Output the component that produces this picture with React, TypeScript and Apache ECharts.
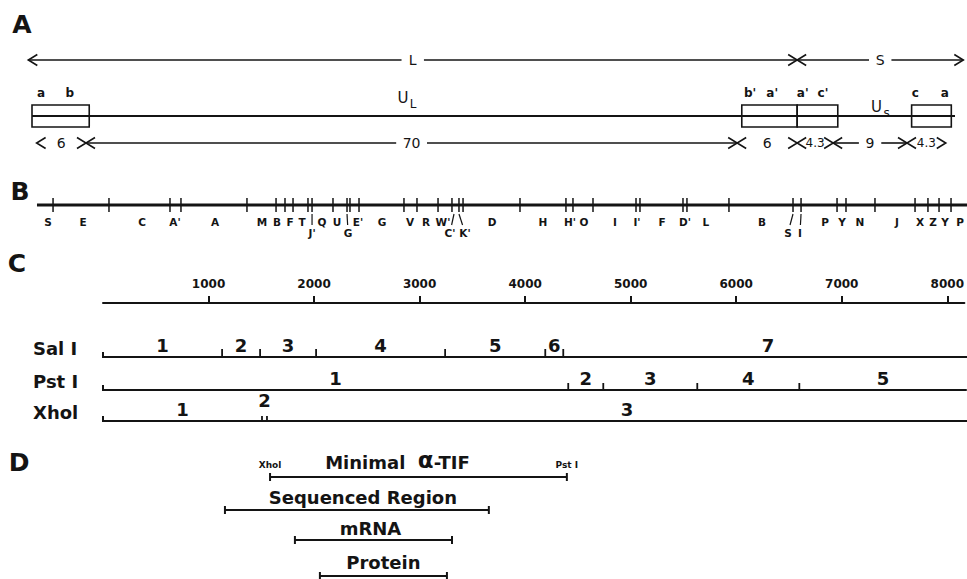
import React, { useEffect, useRef } from "react";
import * as echarts from "echarts";

// ================= DATA =================
// Panel A — genome structure, map units (0..1)
const segmentNames = ["L", "S"];
const segmentStart = [-0.004, 0.829];
const segmentEnd = [0.829, 1.009];

const genomeSpan = [0, 1.0];
const repeatStart = [0, 0.769, 0.829, 0.953];
const repeatEnd = [0.062, 0.829, 0.873, 0.996];
const repeatLabelText = ["a", "b", "b'", "a'", "a'", "c'", "c", "a"];
const repeatLabelPos = [0.0098, 0.041, 0.778, 0.802, 0.835, 0.857, 0.957, 0.989];
const uniqueSub = ["L", "s"];
const uniquePos = [0.402, 0.915];

const sizeBounds = [0.005, 0.0585, 0.764, 0.829, 0.868, 0.948, 0.99];
const sizeLabels = ["6", "70", "6", "4.3", "9", "4.3"];

// Panel B — restriction map, map units
const mapSpanB = [0.0054, 1.013];
const sitesB = [0.0228, 0.0834, 0.1495, 0.1614, 0.2329, 0.2644, 0.2741, 0.2828, 0.299, 0.3034,
  0.3261, 0.3413, 0.3445, 0.3543, 0.403, 0.4171, 0.4399, 0.455, 0.4626, 0.467, 0.5287, 0.5785,
  0.5861, 0.6078, 0.6544, 0.6587, 0.7053, 0.7096, 0.7551, 0.8245, 0.8332, 0.8722, 0.8819, 0.9133,
  0.9567, 0.9707, 0.9827, 0.9957];
const fragTextB = ["S", "E", "C", "A'", "A", "M", "B", "F", "T", "Q", "U", "E'", "G", "V", "R", "W'",
  "D", "H", "H'", "O", "I", "I'", "F", "D'", "L", "B", "P", "Y", "N", "J", "X", "Z", "Y", "P"];
const fragPosB = [0.0173, 0.0553, 0.1192, 0.1549, 0.1983, 0.2492, 0.2654, 0.2795, 0.2925, 0.3142,
  0.3304, 0.3532, 0.3792, 0.4095, 0.4269, 0.4453, 0.4984, 0.5536, 0.5829, 0.5981, 0.6316, 0.6555,
  0.6826, 0.7075, 0.7302, 0.7909, 0.8592, 0.8776, 0.8971, 0.9372, 0.9621, 0.9762, 0.9892, 1.0054];
const smallFragText = ["J'", "G", "C'", "K'", "S", "I"];
const smallFragPos = [0.3034, 0.3424, 0.4529, 0.4691, 0.8191, 0.8321];
const smallFragSite = [0.3034, 0.3413, 0.4572, 0.4626, 0.8245, 0.8332];

// Panel C — base pairs
const bpTickStep = 1000;
const bpAxisMax = 8162;
const enzymeNames = ["Sal I", "Pst I", "Xhol"];
const salSites = [1125, 1484, 2013, 3232, 4178, 4348];
const pstSites = [4395, 4726, 5614, 6578];
const xhoSites = [1502, 1549];
const enzymeSites = [salSites, pstSites, xhoSites];
const enzymeEnds = [8216, 8160, 8350];

// Panel D — base pairs
const regionNames = ["Minimal α-TIF", "Sequenced Region", "mRNA", "Protein"];
const regionStart = [1578, 1152, 1813, 2049];
const regionEnd = [4382, 3645, 3297, 3249];
const regionEndSites = ["Xhol", "Pst I"];

// ================= LAYOUT / STYLE =================
const INK = "#141414";
const FONT = "DejaVu Sans";
const Y = {
  segRow: 60, repeatLbl: 93, boxTop: 105, boxBot: 127, genome: 116, uniqueLbl: [98, 107], sizeRow: 143,
  lineB: 205, tickB: 7, lblB: 222, lblB2: 233,
  axisC: 303, rowsC: [357, 390, 421], tickC: [8, 7, 5],
  dText: [459, 497, 528, 562], dLine: [477, 510, 540, 576],
};
const dTextDx = [-21, 6, -3, 0];

const txt = (text: string, x: number, y: number, size: number, extra: any = {}) => ({
  type: "text",
  style: { text, x, y, fill: INK, fontSize: size, fontWeight: "bold", fontFamily: FONT,
    align: "center", verticalAlign: "middle", ...extra },
});
const seg = (x1: number, y1: number, x2: number, y2: number, w = 1.6) => ({
  type: "line", shape: { x1, y1, x2, y2 }, style: { stroke: INK, lineWidth: w },
});
const poly = (points: number[][], w = 1.6) => ({
  type: "polyline", shape: { points }, style: { stroke: INK, lineWidth: w, fill: null },
});

const intervalRender = (rowY: number, labels: string[], size: number) => (params: any, api: any) => {
  const a = api.coord([api.value(0), rowY]);
  const b = api.coord([api.value(1), rowY]);
  const y = a[1];
  const label = labels[params.dataIndex];
  const mid = (a[0] + b[0]) / 2;
  const half = label.length * size * 0.3 + 7;
  const ah = 9, aw = 5.5;
  const ch: any[] = [
    poly([[a[0] + ah, y - aw], [a[0], y], [a[0] + ah, y + aw]]),
    poly([[b[0] - ah, y - aw], [b[0], y], [b[0] - ah, y + aw]]),
    txt(label, mid, y, label.length > 2 ? 12 : size, { fontWeight: "normal" }),
  ];
  if (mid - half - a[0] > ah + 12) {
    ch.push(seg(a[0], y, mid - half, y), seg(mid + half, y, b[0], y));
  }
  return { type: "group", children: ch };
};

const custom = (axis: number, data: any[], renderItem: any) => ({
  type: "custom", xAxisIndex: axis, yAxisIndex: axis, data, renderItem, silent: true, clip: false,
});

function buildOption() {
  const series: any[] = [];
  // ---- Panel A ----
  series.push(custom(0, segmentStart.map((s, i) => [s, segmentEnd[i]]), intervalRender(Y.segRow, segmentNames, 14)));
  series.push(custom(0, [genomeSpan], (p: any, api: any) => {
    const a = api.coord([api.value(0), Y.genome]);
    const b = api.coord([api.value(1), Y.genome]);
    return seg(a[0], a[1], b[0], b[1], 2.2);
  }));
  series.push(custom(0, repeatStart.map((s, i) => [s, repeatEnd[i]]), (p: any, api: any) => {
    const a = api.coord([api.value(0), Y.boxTop]);
    const b = api.coord([api.value(1), Y.boxBot]);
    return { type: "rect", shape: { x: a[0], y: a[1], width: b[0] - a[0], height: b[1] - a[1] },
      style: { stroke: INK, lineWidth: 1.6, fill: null } };
  }));
  series.push(custom(0, repeatLabelPos.map((v) => [v]), (p: any, api: any) => {
    const a = api.coord([api.value(0), Y.repeatLbl]);
    return txt(repeatLabelText[p.dataIndex], a[0], a[1], 12);
  }));
  series.push(custom(0, uniquePos.map((v) => [v]), (p: any, api: any) => {
    const a = api.coord([api.value(0), Y.uniqueLbl[p.dataIndex]]);
    return { type: "group", children: [
      txt("U", a[0], a[1], 15, { fontWeight: "normal" }),
      txt(uniqueSub[p.dataIndex], a[0] + 10, a[1] + 6, 12, { fontWeight: "normal" }),
    ] };
  }));
  series.push(custom(0, sizeLabels.map((_, i) => [sizeBounds[i], sizeBounds[i + 1]]), intervalRender(Y.sizeRow, sizeLabels, 14)));

  // ---- Panel B ----
  series.push(custom(0, [mapSpanB], (p: any, api: any) => {
    const a = api.coord([api.value(0), Y.lineB]);
    const b = api.coord([api.value(1), Y.lineB]);
    return seg(a[0], a[1], b[0], b[1], 3);
  }));
  series.push(custom(0, sitesB.map((v) => [v]), (p: any, api: any) => {
    const a = api.coord([api.value(0), Y.lineB]);
    return seg(a[0], a[1] - Y.tickB, a[0], a[1] + Y.tickB, 1.5);
  }));
  series.push(custom(0, fragPosB.map((v) => [v]), (p: any, api: any) => {
    const a = api.coord([api.value(0), Y.lblB]);
    return txt(fragTextB[p.dataIndex], a[0], a[1], 10.5);
  }));
  series.push(custom(0, smallFragPos.map((v, i) => [v, smallFragSite[i]]), (p: any, api: any) => {
    const a = api.coord([api.value(0), Y.lblB2]);
    const s = api.coord([api.value(1), Y.lineB]);
    const bx = s[0] + (a[0] - s[0]) * 0.6;
    return { type: "group", children: [
      seg(s[0], s[1] + 9, bx, s[1] + 20, 1.2),
      txt(smallFragText[p.dataIndex], a[0], a[1], 10.5),
    ] };
  }));

  // ---- Panel C ----
  series.push(custom(1, enzymeEnds.map((e) => [0, e]), (p: any, api: any) => {
    const y0 = Y.rowsC[p.dataIndex];
    const a = api.coord([api.value(0), y0]);
    const b = api.coord([api.value(1), y0]);
    return { type: "group", children: [
      seg(a[0], a[1], b[0], b[1], 2),
      seg(a[0], a[1] + 1, a[0], a[1] - 5, 2),
    ] };
  }));
  enzymeSites.forEach((sites, k) => {
    series.push(custom(1, sites.map((v) => [v]), (p: any, api: any) => {
      const a = api.coord([api.value(0), Y.rowsC[k]]);
      return seg(a[0], a[1] + 1, a[0], a[1] - Y.tickC[k], 1.8);
    }));
    const bounds = [0, ...sites, enzymeEnds[k]];
    const frags = sites.concat([enzymeEnds[k]]).map((e, i) => [bounds[i], e]);
    series.push(custom(1, frags, (p: any, api: any) => {
      const a = api.coord([api.value(0), Y.rowsC[k]]);
      const b = api.coord([api.value(1), Y.rowsC[k]]);
      const narrow = b[0] - a[0] < 15;
      return txt(String(p.dataIndex + 1), (a[0] + b[0]) / 2, a[1] - (narrow ? 21 : 12), 18);
    }));
  });

  // ---- Panel D ----
  series.push(custom(1, regionStart.map((s, i) => [s, regionEnd[i]]), (p: any, api: any) => {
    const i = p.dataIndex;
    const a = api.coord([api.value(0), Y.dLine[i]]);
    const b = api.coord([api.value(1), Y.dLine[i]]);
    const y = a[1];
    const mid = (a[0] + b[0]) / 2 + dTextDx[i];
    const ch: any[] = [
      seg(a[0], y, b[0], y, 2),
      seg(a[0], y - 4, a[0], y + 4, 2),
      seg(b[0], y - 4, b[0], y + 4, 2),
    ];
    if (i === 0) {
      const parts = regionNames[0].split(" ");
      ch.push({ type: "text", style: {
        text: "{m|" + parts[0] + "  }{g|α}{m|-TIF}", x: mid, y: Y.dText[i], fill: INK,
        align: "center", verticalAlign: "middle",
        rich: {
          m: { fontSize: 18, lineHeight: 24, verticalAlign: "bottom", fontWeight: "bold", fontFamily: FONT, fill: INK },
          g: { fontSize: 23, lineHeight: 24, verticalAlign: "bottom", fontWeight: "bold", fontFamily: FONT, fill: INK },
        } } });
      ch.push(txt(regionEndSites[0], a[0], y - 12, 9));
      ch.push(txt(regionEndSites[1], b[0], y - 12, 9));
    } else {
      ch.push(txt(regionNames[i], mid, Y.dText[i], 18));
    }
    return { type: "group", children: ch };
  }));

  const hidden = { show: false };
  return {
    animation: false,
    backgroundColor: "#ffffff",
    grid: [
      { left: 32, right: 12, top: 0, bottom: 0 },
      { left: 103, right: 0, top: 0, bottom: 0 },
      { left: 103, right: 0, top: 250, bottom: 579 - Y.axisC },
    ],
    xAxis: [
      { type: "value", gridIndex: 0, min: 0, max: 1, ...hidden },
      { type: "value", gridIndex: 1, min: 0, max: bpAxisMax, ...hidden },
      { type: "value", gridIndex: 2, min: 0, max: bpAxisMax, interval: bpTickStep, position: "bottom",
        splitLine: { show: false },
        axisLine: { lineStyle: { color: INK, width: 2 } },
        axisTick: { inside: true, length: 7, lineStyle: { color: INK, width: 2 } },
        axisLabel: { inside: true, margin: 13, color: INK, fontSize: 12, fontWeight: "bold", fontFamily: FONT,
          showMinLabel: false, showMaxLabel: false,
          formatter: (v: number) => (v > 0 && v % bpTickStep === 0 ? String(v) : "") } },
    ],
    yAxis: [
      { type: "value", gridIndex: 0, min: 0, max: 579, inverse: true, ...hidden },
      { type: "value", gridIndex: 1, min: 0, max: 579, inverse: true, ...hidden },
      { type: "value", gridIndex: 2, min: 0, max: 1, ...hidden },
    ],
    graphic: [
      ...["A", "B", "C", "D"].map((t, i) => ({
        type: "text", x: [22, 20, 17, 19][i], y: [24, 191, 263, 462][i],
        style: { text: t, fill: INK, fontSize: 25, fontWeight: "bold", fontFamily: FONT, align: "center", verticalAlign: "middle" },
      })),
      ...enzymeNames.map((t, i) => ({
        type: "text", x: 33, y: Y.rowsC[i] - 9,
        style: { text: t, fill: INK, fontSize: 18, fontWeight: "bold", fontFamily: FONT, align: "left", verticalAlign: "middle" },
      })),
    ],
    series,
  };
}

export default function App() {
  const ref = useRef<HTMLDivElement>(null);
  useEffect(() => {
    document.body.style.margin = "0";
    const chart = echarts.init(ref.current!, null, { renderer: "svg" });
    chart.setOption(buildOption() as any);
    return () => chart.dispose();
  }, []);
  return <div ref={ref} style={{ position: "fixed", left: 0, top: 0, width: 967, height: 579, background: "#fff" }} />;
}
